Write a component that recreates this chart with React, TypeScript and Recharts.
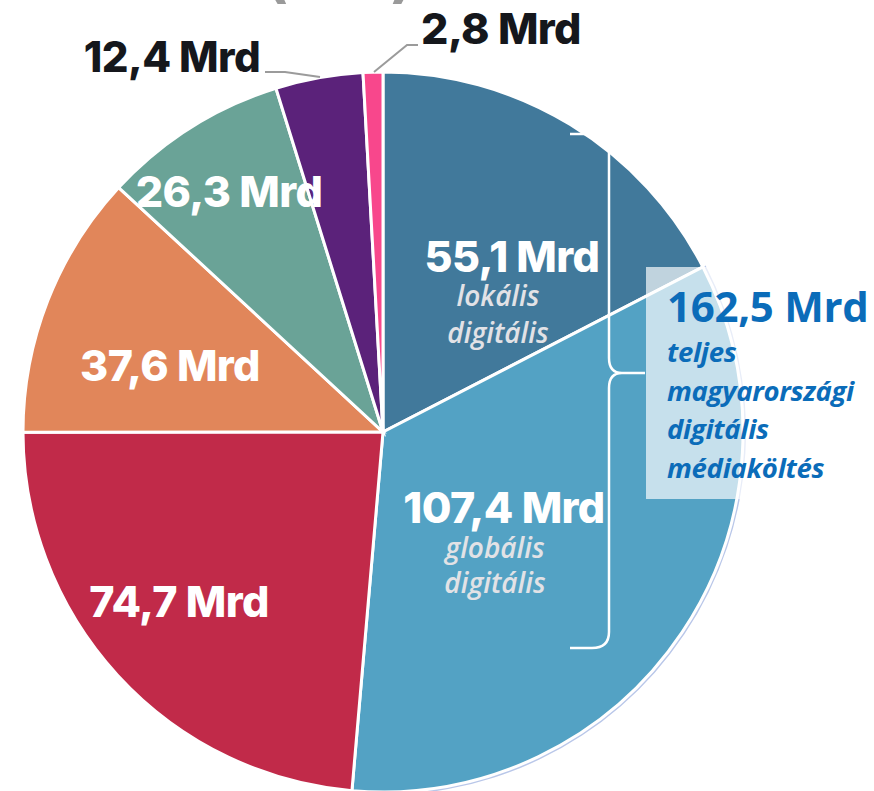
import { PieChart, Pie, Cell } from 'recharts';

const segments = ['lokális digitális', 'globális digitális', 'TV', 'Nyomtatott', 'Rádió', 'Közterület', 'Mozi'];
const values = [55.1, 107.4, 74.7, 37.6, 26.3, 12.4, 2.8];
const colors = ['#41799b', '#53a2c4', '#c12a49', '#e1865a', '#6aa397', '#5b227a', '#f8478c'];
const totalLabel = '162,5 Mrd';
const totalLines = ['teljes', 'magyarországi', 'digitális', 'médiaköltés'];

const fmt = (v: number) => `${v.toFixed(1).replace('.', ',')} Mrd`;

const W = 874;
const H = 791;
const CX = 383;
const CY = 432;
const R = 360;

const bold = { fontFamily: 'Inter, sans-serif', fontWeight: 800, letterSpacing: -0.6 } as const;
const italic = { fontFamily: '"Open Sans", sans-serif', fontWeight: 600, fontStyle: 'italic' } as const;

export default function App() {
  const data = segments.map((name, i) => ({ name, value: values[i] }));

  return (
    <div style={{ position: 'absolute', left: 0, top: 0, width: W, height: H, overflow: 'hidden', background: '#fff' }}>
      <PieChart width={W} height={H} margin={{ top: 0, right: 0, bottom: 0, left: 0 }}>
        <Pie
          data={data}
          dataKey="value"
          cx={CX}
          cy={CY}
          innerRadius={R}
          outerRadius={R + 3}
          startAngle={90}
          endAngle={-270}
          stroke="none"
          isAnimationActive={false}
        >
          {data.map((_, i) => (
            <Cell key={`ring-${i}`} fill={i === 1 ? '#b9c7e9' : 'transparent'} />
          ))}
        </Pie>
        <Pie
          data={data}
          dataKey="value"
          cx={CX}
          cy={CY}
          outerRadius={R}
          startAngle={90}
          endAngle={-270}
          stroke="#ffffff"
          strokeWidth={3}
          isAnimationActive={false}
        >
          {data.map((_, i) => (
            <Cell key={`cell-${i}`} fill={colors[i]} />
          ))}
        </Pie>
      </PieChart>

      <svg width={W} height={H} style={{ position: 'absolute', left: 0, top: 0, pointerEvents: 'none' }}>
        {/* cut-off title parentheses */}
        <text x={262} y={-6} fontSize={72} fill="#9a9a9a" style={{ fontFamily: 'Inter, sans-serif', fontWeight: 600 }}>(</text>
        <text x={390} y={-6} fontSize={72} fill="#9a9a9a" style={{ fontFamily: 'Inter, sans-serif', fontWeight: 600 }}>)</text>

        {/* total box */}
        <rect x={646} y={267} width={230} height={232} fill="#ffffff" fillOpacity={0.67} />

        {/* brace */}
        <path
          d="M570 134 L592 134 Q609 134 609 150 L609 358 Q609 373 622 373 L645 373 M622 373 Q609 373 609 388 L609 632 Q609 648 592 648 L570 648"
          fill="none"
          stroke="#ffffff"
          strokeWidth={2.5}
        />

        {/* leader lines */}
        <polyline points="265,72 285,72 320,77" fill="none" stroke="#9b9b9b" strokeWidth={2} />
        <polyline points="418,45 407,45 374,72" fill="none" stroke="#9b9b9b" strokeWidth={2} />

        {/* slice labels */}
        <text x={512} y={272} textAnchor="middle" fontSize={43} fill="#fff" style={bold}>{fmt(values[0])}</text>
        <text x={498} y={306} textAnchor="middle" fontSize={28} fill="#e2e2e6" style={italic}>lokális</text>
        <text x={498} y={343} textAnchor="middle" fontSize={28} fill="#e2e2e6" style={italic}>digitális</text>

        <text x={504} y={523} textAnchor="middle" fontSize={43} fill="#fff" style={bold}>{fmt(values[1])}</text>
        <text x={495} y={558} textAnchor="middle" fontSize={28} fill="#e2e2e6" style={italic}>globális</text>
        <text x={495} y={593} textAnchor="middle" fontSize={28} fill="#e2e2e6" style={italic}>digitális</text>

        <text x={179} y={617} textAnchor="middle" fontSize={43} fill="#fff" style={bold}>{fmt(values[2])}</text>
        <text x={170} y={381} textAnchor="middle" fontSize={43} fill="#fff" style={bold}>{fmt(values[3])}</text>
        <text x={229} y={207} textAnchor="middle" fontSize={43} fill="#fff" style={bold}>{fmt(values[4])}</text>
        <text x={172} y={72} textAnchor="middle" fontSize={42} fill="#15171c" style={bold}>{fmt(values[5])}</text>
        <text x={501} y={44} textAnchor="middle" fontSize={43} fill="#15171c" style={bold}>{fmt(values[6])}</text>

        {/* total */}
        <text x={667} y={322} fontSize={42} fill="#0b6cb9" style={{ fontFamily: '"Open Sans", sans-serif', fontWeight: 700, letterSpacing: -0.3 }}>{totalLabel}</text>
        {totalLines.map((line, i) => (
          <text key={line} x={667} y={362 + i * 38.5} fontSize={27.5} fill="#0b6cb9" style={{ fontFamily: '"Open Sans", sans-serif', fontWeight: 700, fontStyle: 'italic', letterSpacing: -0.3 }}>
            {line}
          </text>
        ))}
      </svg>
    </div>
  );
}
